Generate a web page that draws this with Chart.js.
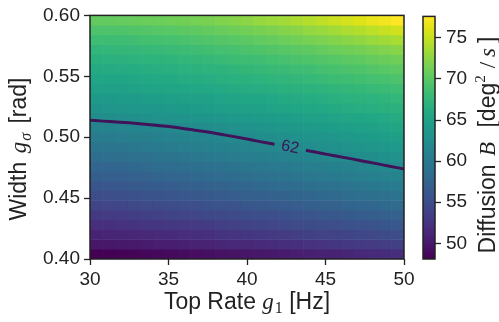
<!DOCTYPE html>
<html>
<head>
<meta charset="utf-8">
<script src="https://cdn.jsdelivr.net/npm/chart.js@4.4.1/dist/chart.umd.min.js"></script>
<style>
  html, body { margin: 0; padding: 0; background: #ffffff; }
  #wrap { position: relative; width: 499px; height: 322px; overflow: hidden; }
  #main { position: absolute; left: 0; top: 0; }
  #cbar { position: absolute; left: 415px; top: 0; }
</style>
</head>
<body>
<div id="wrap">
  <canvas id="main" width="499" height="322"></canvas>
  <canvas id="cbar" width="84" height="322"></canvas>
</div>
<script>
// Grid nodes: top rate g1 (Hz) along x, width g_sigma (rad) along y (listed top row first)
const rates = [30.00, 30.83, 31.67, 32.50, 33.33, 34.17, 35.00, 35.83, 36.67, 37.50, 38.33, 39.17,
               40.00, 40.83, 41.67, 42.50, 43.33, 44.17, 45.00, 45.83, 46.67, 47.50, 48.33, 49.17, 50.00];
const widths = [0.6000, 0.5917, 0.5833, 0.5750, 0.5667, 0.5583, 0.5500, 0.5417, 0.5333, 0.5250,
                0.5167, 0.5083, 0.5000, 0.4917, 0.4833, 0.4750, 0.4667, 0.4583, 0.4500, 0.4417,
                0.4333, 0.4250, 0.4167, 0.4083, 0.4000];

// Diffusion B (deg^2/s); one row per width, one column per rate
const diffusion = [
  [70.5,70.5,70.6,70.7,70.8,70.9,71.1,71.3,71.5,71.7,72.0,72.2,72.5,72.9,73.2,73.5,73.9,74.3,74.7,75.2,75.6,76.1,76.6,77.1,77.6],
  [69.3,69.3,69.4,69.5,69.6,69.8,69.9,70.1,70.3,70.5,70.7,71.0,71.2,71.5,71.8,72.1,72.4,72.8,73.1,73.5,73.9,74.2,74.6,75.1,75.5],
  [68.3,68.4,68.4,68.5,68.7,68.8,68.9,69.1,69.3,69.5,69.7,69.9,70.1,70.4,70.6,70.9,71.2,71.5,71.8,72.1,72.4,72.7,73.1,73.4,73.8],
  [67.4,67.5,67.6,67.7,67.8,67.9,68.1,68.2,68.4,68.6,68.8,69.0,69.2,69.4,69.6,69.8,70.1,70.3,70.6,70.9,71.1,71.4,71.7,72.0,72.3],
  [66.7,66.8,66.9,67.0,67.1,67.2,67.3,67.5,67.6,67.8,68.0,68.2,68.3,68.5,68.7,68.9,69.2,69.4,69.6,69.8,70.1,70.3,70.6,70.8,71.1],
  [66.0,66.1,66.2,66.3,66.4,66.5,66.6,66.8,66.9,67.1,67.2,67.4,67.6,67.8,68.0,68.1,68.3,68.5,68.8,69.0,69.2,69.4,69.6,69.9,70.1],
  [65.4,65.5,65.6,65.7,65.8,65.9,66.0,66.2,66.3,66.4,66.6,66.8,66.9,67.1,67.3,67.4,67.6,67.8,68.0,68.2,68.4,68.6,68.8,69.0,69.2],
  [64.8,64.9,65.0,65.1,65.2,65.3,65.4,65.5,65.7,65.8,65.9,66.1,66.2,66.4,66.5,66.7,66.9,67.0,67.2,67.4,67.6,67.7,67.9,68.1,68.3],
  [64.0,64.1,64.2,64.3,64.4,64.5,64.6,64.8,64.9,65.0,65.2,65.3,65.5,65.6,65.8,66.0,66.1,66.3,66.4,66.6,66.8,67.0,67.1,67.3,67.5],
  [63.3,63.4,63.5,63.6,63.7,63.8,64.0,64.1,64.3,64.4,64.6,64.7,64.9,65.0,65.2,65.3,65.5,65.7,65.8,66.0,66.2,66.4,66.5,66.7,66.9],
  [62.4,62.5,62.6,62.7,62.8,63.0,63.1,63.2,63.4,63.5,63.7,63.9,64.0,64.2,64.3,64.5,64.7,64.8,65.0,65.2,65.4,65.6,65.7,65.9,66.1],
  [61.2,61.3,61.4,61.5,61.64,61.77,61.94,62.09,62.25,62.45,62.65,62.8,63.0,63.2,63.4,63.6,63.8,64.0,64.2,64.4,64.6,64.8,65.0,65.2,65.4],
  [60.3,60.4,60.5,60.7,60.8,61.0,61.1,61.3,61.45,61.53,61.74,61.95,62.14,62.35,62.55,62.7,62.9,63.1,63.3,63.5,63.8,64.0,64.2,64.4,64.6],
  [59.5,59.6,59.7,59.9,60.0,60.2,60.3,60.5,60.7,60.9,61.0,61.2,61.38,61.55,61.74,61.95,62.15,62.36,62.6,62.8,63.0,63.2,63.5,63.7,63.9],
  [58.6,58.7,58.8,59.0,59.1,59.3,59.4,59.6,59.8,60.0,60.1,60.3,60.5,60.7,60.9,61.1,61.3,61.48,61.7,61.9,62.12,62.36,62.54,62.8,63.0],
  [57.7,57.8,57.9,58.1,58.2,58.4,58.5,58.7,58.9,59.1,59.2,59.4,59.6,59.8,60.0,60.2,60.4,60.6,60.8,61.0,61.2,61.42,61.68,61.9,62.1],
  [56.8,56.9,57.0,57.2,57.3,57.5,57.7,57.8,58.0,58.2,58.4,58.6,58.8,59.0,59.2,59.4,59.6,59.8,60.0,60.2,60.4,60.6,60.9,61.1,61.3],
  [55.9,56.0,56.1,56.3,56.4,56.6,56.7,56.9,57.1,57.3,57.4,57.6,57.8,58.0,58.2,58.4,58.6,58.8,59.0,59.2,59.4,59.6,59.9,60.1,60.3],
  [55.0,55.1,55.2,55.4,55.5,55.7,55.8,56.0,56.2,56.3,56.5,56.7,56.9,57.1,57.3,57.4,57.6,57.8,58.0,58.2,58.5,58.7,58.9,59.1,59.3],
  [54.1,54.2,54.3,54.4,54.6,54.7,54.9,55.1,55.2,55.4,55.6,55.7,55.9,56.1,56.3,56.5,56.7,56.9,57.1,57.3,57.5,57.7,57.9,58.1,58.3],
  [53.1,53.2,53.3,53.4,53.6,53.7,53.9,54.0,54.2,54.4,54.5,54.7,54.9,55.1,55.2,55.4,55.6,55.8,56.0,56.2,56.4,56.6,56.8,57.0,57.2],
  [52.1,52.2,52.3,52.4,52.6,52.7,52.9,53.0,53.2,53.3,53.5,53.7,53.8,54.0,54.2,54.4,54.6,54.7,54.9,55.1,55.3,55.5,55.7,55.9,56.1],
  [51.0,51.1,51.2,51.3,51.5,51.6,51.7,51.9,52.0,52.2,52.4,52.5,52.7,52.9,53.0,53.2,53.4,53.6,53.8,53.9,54.1,54.3,54.5,54.7,54.9],
  [49.9,50.0,50.1,50.2,50.3,50.5,50.6,50.7,50.9,51.0,51.2,51.4,51.5,51.7,51.8,52.0,52.2,52.3,52.5,52.7,52.9,53.1,53.2,53.4,53.6],
  [48.1,48.2,48.3,48.4,48.6,48.7,48.8,49.0,49.1,49.3,49.5,49.6,49.8,50.0,50.1,50.3,50.5,50.7,50.9,51.0,51.2,51.4,51.6,51.8,52.0]
];

// Contour level and where its inline label sits (rate, Hz)
const contourLevel = 62;
const labelRate = 42.75;
const labelGap = 1.0;

// Axis tick values
const rateTicks = [30, 35, 40, 45, 50];
const widthTicks = [0.40, 0.45, 0.50, 0.55, 0.60];
const colorTicks = [50, 55, 60, 65, 70, 75];

// ---------------------------------------------------------------------------
const INK = '#222222';
const LINE_COLOR = '#3f1459';
const SANS = "'Liberation Sans', Arial, Helvetica, sans-serif";
const SERIF = "'Liberation Serif', 'DejaVu Serif', serif";
const TICK_FONT = { family: SANS, size: 19 };
const TITLE_PX = 23;

const VIRIDIS = ['#440154', '#471365', '#482475', '#463480', '#414487', '#3b528b', '#355f8d',
  '#2f6c8e', '#2a788e', '#25848e', '#21918c', '#1e9c89', '#22a884', '#2fb47c', '#44bf70',
  '#5ec962', '#7ad151', '#9bd93c', '#bddf26', '#dfe318', '#fde725'];
const hexRgb = h => [1, 3, 5].map(k => parseInt(h.slice(k, k + 2), 16));
const VIR_RGB = VIRIDIS.map(hexRgb);
function viridis(t) {
  t = Math.max(0, Math.min(1, t));
  const p = t * (VIR_RGB.length - 1);
  const k = Math.min(Math.floor(p), VIR_RGB.length - 2);
  const f = p - k;
  const a = VIR_RGB[k], b = VIR_RGB[k + 1];
  const c = a.map((v, m) => Math.round(v + (b[m] - v) * f));
  return `rgb(${c[0]},${c[1]},${c[2]})`;
}

const nRows = widths.length, nCols = rates.length;
const rateMin = Math.min(...rates), rateMax = Math.max(...rates);
const widthMin = Math.min(...widths), widthMax = Math.max(...widths);
const cellW = (rateMax - rateMin) / nCols;
const cellH = (widthMax - widthMin) / nRows;
const allValues = diffusion.flat();
const vmin = Math.min(...allValues), vmax = Math.max(...allValues);
const norm = v => (v - vmin) / (vmax - vmin);

// Image cells stretched over the full axis range, one bar per cell
const heatDatasets = diffusion.map((row, j) => {
  const hi = widthMax - j * cellH;
  const lo = hi - cellH;
  return {
    type: 'bar',
    data: row.map((v, i) => ({ x: rateMin + (i + 0.5) * cellW, y: [lo, hi] })),
    backgroundColor: row.map(v => viridis(norm(v))),
    borderWidth: 0,
    barPercentage: 1,
    categoryPercentage: 1,
    order: 1
  };
});

// Iso-line of the diffusion grid at the contour level, traced column by column
function contourPoints(level) {
  const pts = [];
  for (let i = 0; i < nCols; i++) {
    for (let j = 0; j < nRows - 1; j++) {
      const a = diffusion[j][i], b = diffusion[j + 1][i];
      if ((a - level) * (b - level) <= 0 && a !== b) {
        const f = (a - level) / (a - b);
        pts.push({ x: rates[i], y: widths[j] + f * (widths[j + 1] - widths[j]) });
        break;
      }
    }
  }
  return pts;
}
function yAt(pts, x) {
  for (let k = 0; k < pts.length - 1; k++) {
    const p = pts[k], q = pts[k + 1];
    if (x >= p.x && x <= q.x) return p.y + (q.y - p.y) * (x - p.x) / (q.x - p.x);
  }
  return pts[pts.length - 1].y;
}
const contour = contourPoints(contourLevel);
const gapLo = labelRate - labelGap, gapHi = labelRate + labelGap;
const contourLine = [
  ...contour.filter(p => p.x < gapLo),
  { x: gapLo, y: yAt(contour, gapLo) },
  { x: labelRate, y: null },
  { x: gapHi, y: yAt(contour, gapHi) },
  ...contour.filter(p => p.x > gapHi)
];

// Text made of roman, italic and sub/superscript pieces
function richText(ctx, pieces, x, y, rotate) {
  ctx.save();
  ctx.translate(x, y);
  if (rotate) ctx.rotate(rotate);
  let total = 0;
  pieces.forEach(p => { ctx.font = p.font; p.w = ctx.measureText(p.t).width; total += p.w + (p.gap || 0); });
  let cx = -total / 2;
  ctx.fillStyle = INK;
  ctx.textBaseline = 'alphabetic';
  ctx.textAlign = 'left';
  pieces.forEach(p => {
    ctx.font = p.font;
    ctx.fillText(p.t, cx, p.dy || 0);
    cx += p.w + (p.gap || 0);
  });
  ctx.restore();
}

const frame = {
  id: 'frame',
  afterDatasetsDraw(chart) {
    const { ctx, chartArea: a } = chart;
    ctx.save();
    ctx.strokeStyle = INK;
    ctx.lineWidth = 1.5;
    ctx.strokeRect(a.left, a.top, a.right - a.left, a.bottom - a.top);
    ctx.restore();
  }
};

const contourLabel = {
  id: 'contourLabel',
  afterDatasetsDraw(chart) {
    const { ctx, scales } = chart;
    const x0 = scales.x.getPixelForValue(gapLo), y0 = scales.y.getPixelForValue(yAt(contour, gapLo));
    const x1 = scales.x.getPixelForValue(gapHi), y1 = scales.y.getPixelForValue(yAt(contour, gapHi));
    const px = scales.x.getPixelForValue(labelRate), py = scales.y.getPixelForValue(yAt(contour, labelRate));
    ctx.save();
    ctx.translate(px, py);
    ctx.rotate(Math.atan2(y1 - y0, x1 - x0));
    ctx.font = `16px ${SANS}`;
    ctx.fillStyle = LINE_COLOR;
    ctx.textAlign = 'center';
    ctx.textBaseline = 'middle';
    ctx.fillText(String(contourLevel), 0, 0);
    ctx.restore();
  }
};

const axisTitles = {
  id: 'axisTitles',
  afterDraw(chart) {
    const { ctx, chartArea: a } = chart;
    const sans = `${TITLE_PX}px ${SANS}`, ital = `italic ${TITLE_PX}px ${SERIF}`;
    const sub = `16px ${SERIF}`, subI = `italic 16px ${SERIF}`;
    richText(ctx, [
      { t: 'Top Rate ', font: sans },
      { t: 'g', font: ital, gap: 1 },
      { t: '1', font: sub, dy: 4 },
      { t: ' [Hz]', font: sans }
    ], (a.left + a.right) / 2, 309, 0);
    richText(ctx, [
      { t: 'Width ', font: sans, gap: 2 },
      { t: 'g', font: ital, gap: 1 },
      { t: 'σ', font: subI, dy: 5, gap: 3 },
      { t: ' [rad]', font: sans }
    ], 26, 149, -Math.PI / 2);
  }
};

const ticksCommon = (extra) => Object.assign({
  color: INK, font: TICK_FONT, autoSkip: false, maxRotation: 0
}, extra);
const gridCommon = {
  display: true, drawOnChartArea: false, drawTicks: true, offset: false,
  tickLength: 6, tickWidth: 1.3, tickColor: INK
};

new Chart(document.getElementById('main'), {
  type: 'bar',
  data: {
    datasets: [
      {
        type: 'line',
        data: contourLine,
        borderColor: LINE_COLOR,
        borderWidth: 3,
        pointRadius: 0,
        cubicInterpolationMode: 'monotone',
        spanGaps: false,
        order: 0
      },
      ...heatDatasets
    ]
  },
  options: {
    responsive: false,
    animation: false,
    events: [],
    layout: { padding: { left: 0, top: 11, right: 95, bottom: 0 } },
    plugins: { legend: { display: false }, tooltip: { enabled: false } },
    scales: {
      x: {
        type: 'linear', min: rateMin, max: rateMax, offset: false, stacked: true,
        afterBuildTicks: s => { s.ticks = rateTicks.map(v => ({ value: v })); },
        ticks: ticksCommon({ padding: 3, callback: v => String(v) }),
        grid: gridCommon,
        border: { display: false },
        afterFit: s => { s.height = 63; }
      },
      y: {
        type: 'linear', min: widthMin, max: widthMax, stacked: false,
        afterBuildTicks: s => { s.ticks = widthTicks.map(v => ({ value: v })); },
        ticks: ticksCommon({ padding: 4, callback: v => Number(v).toFixed(2) }),
        grid: gridCommon,
        border: { display: false },
        afterFit: s => { s.width = 90; }
      }
    }
  },
  plugins: [frame, contourLabel, axisTitles]
});

// Colour bar
const cbarTitle = {
  id: 'cbarTitle',
  afterDraw(chart) {
    const { ctx } = chart;
    const sans = `${TITLE_PX}px ${SANS}`, ital = `italic ${TITLE_PX}px ${SERIF}`;
    const roman = `${TITLE_PX}px ${SERIF}`, sup = `15px ${SERIF}`;
    richText(ctx, [
      { t: 'Diffusion ', font: sans, gap: 2 },
      { t: 'B', font: ital, gap: 8 },
      { t: ' [deg', font: sans },
      { t: '2', font: sup, dy: -10, gap: 7 },
      { t: '/', font: roman, gap: 5 },
      { t: 's', font: ital, gap: 5 },
      { t: ']', font: sans }
    ], 80, 145, -Math.PI / 2);
  }
};

new Chart(document.getElementById('cbar'), {
  type: 'bar',
  data: {
    labels: [''],
    datasets: [{
      data: [[vmin, vmax]],
      backgroundColor: (c) => {
        const chart = c.chart;
        if (!chart.chartArea) return VIRIDIS[10];
        const y = chart.scales.y;
        const g = chart.ctx.createLinearGradient(0, y.getPixelForValue(vmin), 0, y.getPixelForValue(vmax));
        VIRIDIS.forEach((col, k) => g.addColorStop(k / (VIRIDIS.length - 1), col));
        return g;
      },
      borderWidth: 0,
      barPercentage: 1,
      categoryPercentage: 1
    }]
  },
  options: {
    responsive: false,
    animation: false,
    events: [],
    layout: { padding: { left: 8, top: 11, right: 0, bottom: 63 } },
    plugins: { legend: { display: false }, tooltip: { enabled: false } },
    scales: {
      x: { display: false },
      y: {
        type: 'linear', position: 'right', min: vmin, max: vmax,
        afterBuildTicks: s => { s.ticks = colorTicks.map(v => ({ value: v })); },
        ticks: ticksCommon({ padding: 5, callback: v => String(v) }),
        grid: gridCommon,
        border: { display: false },
        afterFit: s => { s.width = 64; }
      }
    }
  },
  plugins: [frame, cbarTitle]
});
</script>
</body>
</html>
